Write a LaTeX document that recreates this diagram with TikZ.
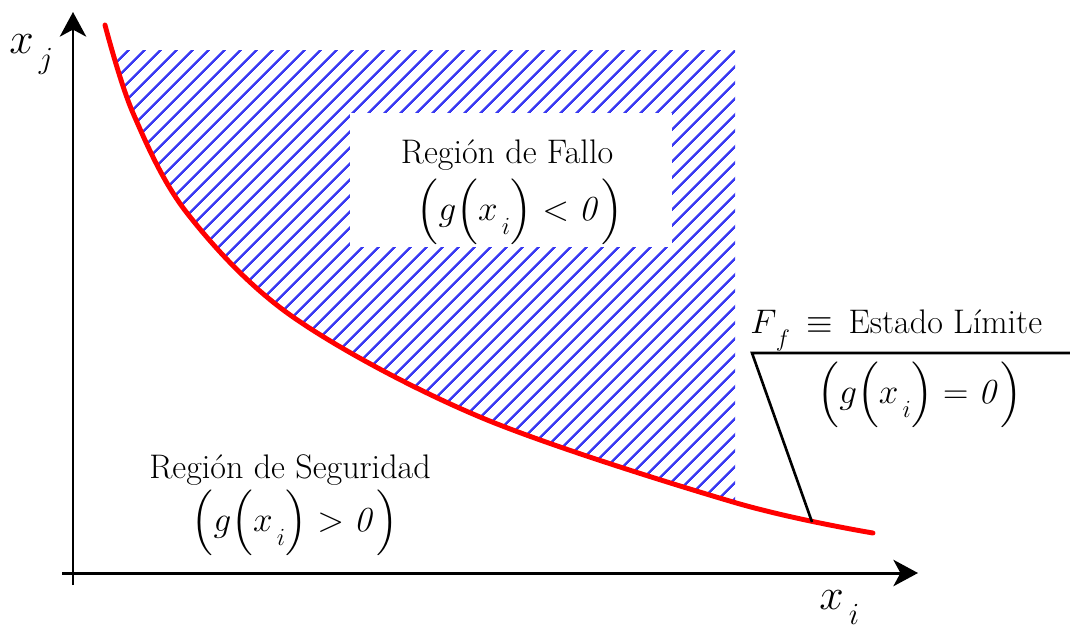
\RequirePackage{fix-cm}
\documentclass[tikz,border=0pt]{standalone}
\usepackage{amsmath}
\usetikzlibrary{arrows.meta,patterns.meta,positioning}
\definecolor{hatchblue}{HTML}{3A3AF2}
\definecolor{limred}{HTML}{FF0000}
\newcommand{\txtsize}{\fontsize{19.4}{23}\selectfont}
\newcommand{\eqsize}{\fontsize{20}{24}\selectfont}
\newcommand{\axsize}{\fontsize{25}{30}\selectfont}
\newcommand{\lowsub}[1]{_{\lower5pt\hbox{$\scriptstyle\,#1$}}}
\newcommand{\gineq}[1]{$\Big(g\Big(x\lowsub{i}\Big)#1\mathit{0}\Big)$}
\newcommand{\limpts}{(105,25) (133,113) (187,213) (293,317) (480,417) (733,502) (873,533)}
\tikzset{
  axisline/.style={-{Stealth[length=14pt,width=15pt,inset=4pt]}, line width=1.7pt},
  limcurve/.style={draw=limred, line width=2.8pt, line cap=round},
  callout/.style={line width=1.5pt},
  hatch/.style={pattern={Lines[angle=45,distance=6.4pt,line width=1.4pt]},
                pattern color=hatchblue},
  lbl/.style={inner sep=0pt, font=\txtsize, align=center},
  eqlbl/.style={inner sep=0pt, font=\eqsize},
  axlbl/.style={inner sep=0pt, font=\axsize}}

\begin{document}
\begin{tikzpicture}[x=0.02cm, y=-0.02cm]
    \useasboundingbox (0,0) rectangle (1070,629);
    % the hatched failure region, above the limit curve
    \begin{scope}
      \clip plot[smooth, tension=0.55] coordinates {\limpts} -- (873,0) -- (105,0) -- cycle;
      \fill[hatch] (105,50) rectangle (735,500);
    \end{scope}
    \fill[white] (350,113) rectangle (672,247);
    % axes
    \coordinate (yfoot) at (73,585);
    \coordinate (ytip) at (73,12);
    \coordinate (xfoot) at (62,573);
    \coordinate (xtip) at (918,573);
    \draw[axisline] (yfoot) -- (ytip);
    \draw[axisline] (xfoot) -- (xtip);
    \node[axlbl, anchor=base west] (xj) at (9,53) {$x\lowsub{j}$};
    \node[axlbl, anchor=base west] (xi) at (819,609) {$x\lowsub{i}$};
    % the limit state curve
    \draw[limcurve] plot[smooth, tension=0.55] coordinates {\limpts};
    % labels
    \node[lbl, anchor=base] (fallo) at (507,163) {Región de Fallo};
    \node[eqlbl] (falloeq) at (520,212) {\gineq{<}};
    \node[lbl, anchor=base] (segur) at (290,478) {Región de Seguridad};
    \node[eqlbl] (segureq) at (295,523) {\gineq{>}};
    \node[lbl, anchor=base west] (lim) at (750,333) {$F\lowsub{f}\,\equiv$\ \,Estado Límite};
    \node[eqlbl] (limeq) at (920,395) {\gineq{=}};
    % callout onto the curve
    \coordinate (lend) at (1070,353);
    \coordinate (lknee) at (752,353);
    \coordinate (lfoot) at (812,522);
    \draw[callout] (lend) -- (lknee) -- (lfoot);
  \end{tikzpicture}
\end{document}
